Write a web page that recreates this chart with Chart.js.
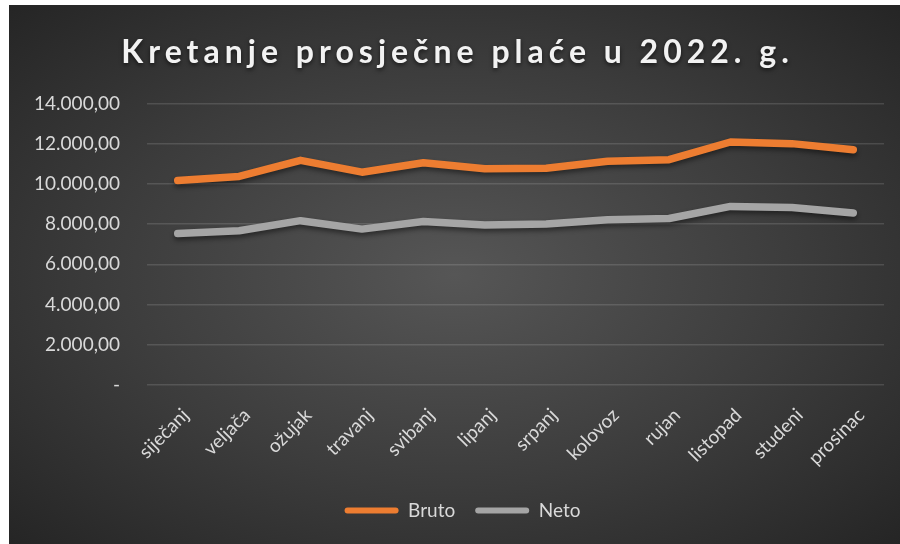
<!DOCTYPE html>
<html>
<head>
<meta charset="utf-8">
<script src="https://cdn.jsdelivr.net/npm/chart.js@4"></script>
<style>
  html, body { margin: 0; padding: 0; background: #ffffff; }
  #wrap {
    position: absolute; left: 9px; top: 5px; width: 891px; height: 539px;
    background: radial-gradient(ellipse farthest-corner at 50% 50%, #565656 0%, #3c3c3c 55%, #252525 100%);
  }
</style>
</head>
<body>
<div id="wrap"><canvas id="chart" width="891" height="539"></canvas></div>
<script>
const months = ['siječanj', 'veljača', 'ožujak', 'travanj', 'svibanj', 'lipanj',
                'srpanj', 'kolovoz', 'rujan', 'listopad', 'studeni', 'prosinac'];
const bruto = [10165, 10370, 11170, 10580, 11050, 10750, 10780, 11120, 11200, 12080, 12000, 11700];
const neto = [7530, 7670, 8170, 7750, 8130, 7950, 8000, 8220, 8280, 8880, 8830, 8550];
const yTicks = [0, 2000, 4000, 6000, 8000, 10000, 12000, 14000];

// hrvatski format broja: 14.000,00
function formatHr(v) {
    if (v === 0) return '-';
    const parts = v.toFixed(2).split('.');
    return parts[0].replace(/\B(?=(\d{3})+(?!\d))/g, '.') + ',' + parts[1];
}

const textColor = '#d9d9d9';

// razmak slova i sjena za naslov, malo pomicanje naslova i legende
const boxStyle = {
    id: 'boxStyle',
    afterInit(chart) {
        const tb = chart.titleBlock;
        if (tb) {
            const orig = tb.draw.bind(tb);
            tb.draw = function () {
                const ctx = chart.ctx;
                ctx.save();
                ctx.translate(3, 0);
                ctx.letterSpacing = '5px';
                ctx.shadowColor = 'rgba(0,0,0,0.6)';
                ctx.shadowBlur = 4;
                ctx.shadowOffsetY = 2;
                orig();
                ctx.restore();
            };
        }
        const lg = chart.legend;
        if (lg) {
            const origL = lg.draw.bind(lg);
            lg.draw = function () {
                const ctx = chart.ctx;
                ctx.save();
                ctx.translate(8, 0);
                origL();
                ctx.restore();
            };
        }
    }
};

// sjena ispod linija
const lineShadow = {
    id: 'lineShadow',
    beforeDatasetsDraw(chart) {
        const ctx = chart.ctx;
        ctx.save();
        ctx.shadowColor = 'rgba(0,0,0,0.45)';
        ctx.shadowBlur = 5;
        ctx.shadowOffsetY = 3;
    },
    afterDatasetsDraw(chart) {
        chart.ctx.restore();
    }
};

const ctx = document.getElementById('chart').getContext('2d');
const myChart = new Chart(ctx, {
    type: 'line',
    data: {
        labels: months,
        datasets: [{
            label: 'Bruto',
            data: bruto,
            borderColor: '#ED7D31',
            backgroundColor: '#ED7D31',
            borderWidth: 7.5,
            borderCapStyle: 'round',
            borderJoinStyle: 'round',
            pointRadius: 0,
            tension: 0
        }, {
            label: 'Neto',
            data: neto,
            borderColor: '#A5A5A5',
            backgroundColor: '#A5A5A5',
            borderWidth: 7.5,
            borderCapStyle: 'round',
            borderJoinStyle: 'round',
            pointRadius: 0,
            tension: 0
        }]
    },
    options: {
        responsive: false,
        animation: false,
        layout: { padding: { left: 16, right: 16, top: 0, bottom: 14 } },
        plugins: {
            title: {
                display: true,
                text: 'Kretanje prosječne plaće u 2022. g.',
                color: '#f2f2f2',
                font: { family: 'Lato', size: 32, weight: 'bold' },
                padding: { top: 28, bottom: 32 }
            },
            legend: {
                position: 'bottom',
                labels: {
                    color: textColor,
                    font: { family: 'Lato', size: 19 },
                    boxWidth: 54,
                    boxHeight: 6,
                    padding: 20,
                    useBorderRadius: true,
                    borderRadius: 3,
                    generateLabels(chart) {
                        const items = Chart.defaults.plugins.legend.labels.generateLabels(chart);
                        items.forEach(it => { it.lineWidth = 0; it.strokeStyle = 'transparent'; });
                        return items;
                    }
                }
            },
            tooltip: { enabled: false }
        },
        scales: {
            x: {
                offset: true,
                grid: { display: false },
                border: { display: false },
                ticks: {
                    color: textColor,
                    font: { family: 'Lato', size: 19 },
                    maxRotation: 45,
                    minRotation: 45,
                    padding: 11,
                    labelOffset: 8
                },
                afterFit(scale) { scale.height = 96; }
            },
            y: {
                min: 0,
                max: 14000,
                afterBuildTicks(scale) { scale.ticks = yTicks.map(v => ({ value: v })); },
                grid: { color: 'rgba(255,255,255,0.13)', lineWidth: 1.5, drawTicks: false },
                border: { display: false },
                ticks: {
                    color: textColor,
                    font: { family: 'Lato', size: 19 },
                    padding: 27,
                    callback: v => formatHr(v)
                },
                afterFit(scale) { scale.width = 122; }
            }
        }
    },
    plugins: [boxStyle, lineShadow]
});
</script>
</body>
</html>
